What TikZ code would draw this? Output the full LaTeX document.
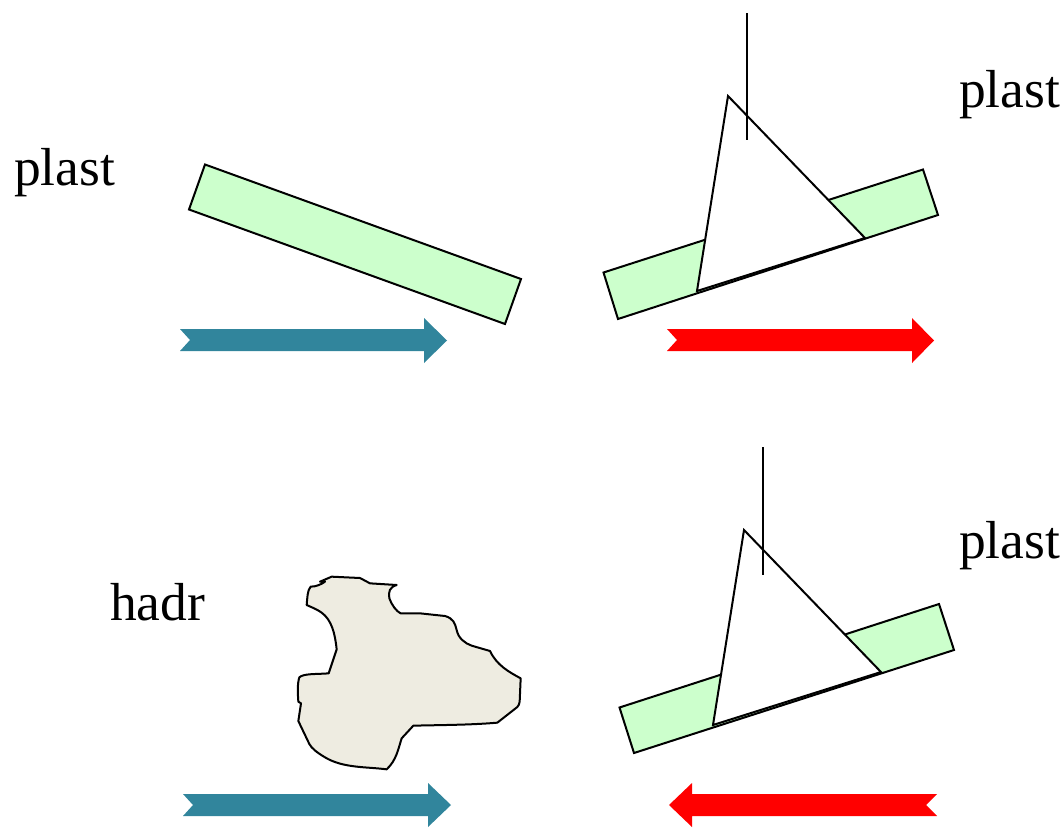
\documentclass[tikz,border=0pt]{standalone}
\usepackage{fontspec}
\setmainfont{Liberation Serif}
\tikzset{
 plate/.style={draw=black,fill=platefill,line width=2pt,line join=miter},
 wedge/.style={draw=black,fill=white,line width=2pt,line join=miter},
 stem/.style={draw=black,line width=2pt},
 label/.style={font=\fontsize{53.5}{53.5}\selectfont,anchor=base west,inner sep=0pt,text=black},
}
\definecolor{platefill}{HTML}{CCFFCC}
\definecolor{bluearrow}{HTML}{31859C}
\definecolor{rock}{HTML}{EEECE1}
\begin{document}
\begin{tikzpicture}[x=1pt,y=-1pt]
\useasboundingbox (0,0) rectangle (1064,827);
% top-left plate
\draw[plate] (205,164.5) -- (521,279) -- (505,324) -- (189,209.5) -- cycle;
\fill[bluearrow] (180,329) -- (424,329) -- (424,318) -- (447,340.5) -- (424,363) -- (424,351) -- (180,351) -- (190,340) -- cycle;
% top-right
\draw[plate] (603.5,272.5) -- (923,169.5) -- (938,215) -- (618,319) -- cycle;
\draw[wedge] (728,96) -- (865,238) -- (697,291) -- cycle;
\draw[stem] (747,13) -- (747,140);
\fill[red] (667,329) -- (912,329) -- (912,318) -- (934,340.5) -- (912,363) -- (912,351) -- (667,351) -- (677,340) -- cycle;
% bottom-right
\draw[plate] (619.5,707.5) -- (939,604) -- (954,650) -- (634,753) -- cycle;
\draw[wedge] (744,530) -- (881,672) -- (713,725) -- cycle;
\draw[stem] (763,447) -- (763,575);
\fill[red] (669,805) -- (692,783) -- (692,794) -- (937,794) -- (926,805) -- (937,816) -- (692,816) -- (692,827) -- cycle;
% bottom-left
\fill[bluearrow] (183,794) -- (428,794) -- (428,783) -- (451,805) -- (428,827) -- (428,816) -- (183,816) -- (193,805) -- cycle;
\begin{scope}[xshift=280pt,yshift=-560pt,x=.33333pt,y=-.33333pt]
\draw[draw=black,fill=rock,line width=2pt,line join=round]
 (120,65) -- (155,50) -- (240,54) -- (270,70) -- (350,75)
 .. controls (328,82) and (325,95) .. (328,115)
 .. controls (335,135) and (350,155) .. (362,160)
 -- (420,160) -- (495,168)
 .. controls (520,175) and (525,190) .. (530,210)
 .. controls (535,235) and (555,250) .. (575,257)
 -- (630,273)
 .. controls (650,315) and (685,335) .. (722,355)
 -- (719,425) .. controls (718,432) and (716,437) .. (712,441)
 -- (652,488)
 .. controls (570,495) and (480,495) .. (400,497) -- (365,535)
 .. controls (355,565) and (350,600) .. (320,628)
 .. controls (260,620) and (190,625) .. (135,592)
 .. controls (110,577) and (95,565) .. (88,552)
 -- (55,483) -- (63,430) -- (55,425)
 .. controls (53,400) and (52,370) .. (58,352)
 .. controls (70,340) and (110,343) .. (146,340)
 -- (170,268)
 .. controls (165,220) and (155,180) .. (125,158)
 .. controls (110,147) and (95,142) .. (80,135)
 .. controls (82,115) and (82,90) .. (92,80)
 .. controls (110,80) and (125,72) .. (135,65)
 -- (120,65) -- cycle;
\end{scope}
\node[label] (plastA) at (14,185) {plast};
\node[label] (plastB) at (959,107) {plast};
\node[label] (plastC) at (959,558) {plast};
\node[label] (hadr) at (110,620) {hadr};
\end{tikzpicture}
\end{document}
